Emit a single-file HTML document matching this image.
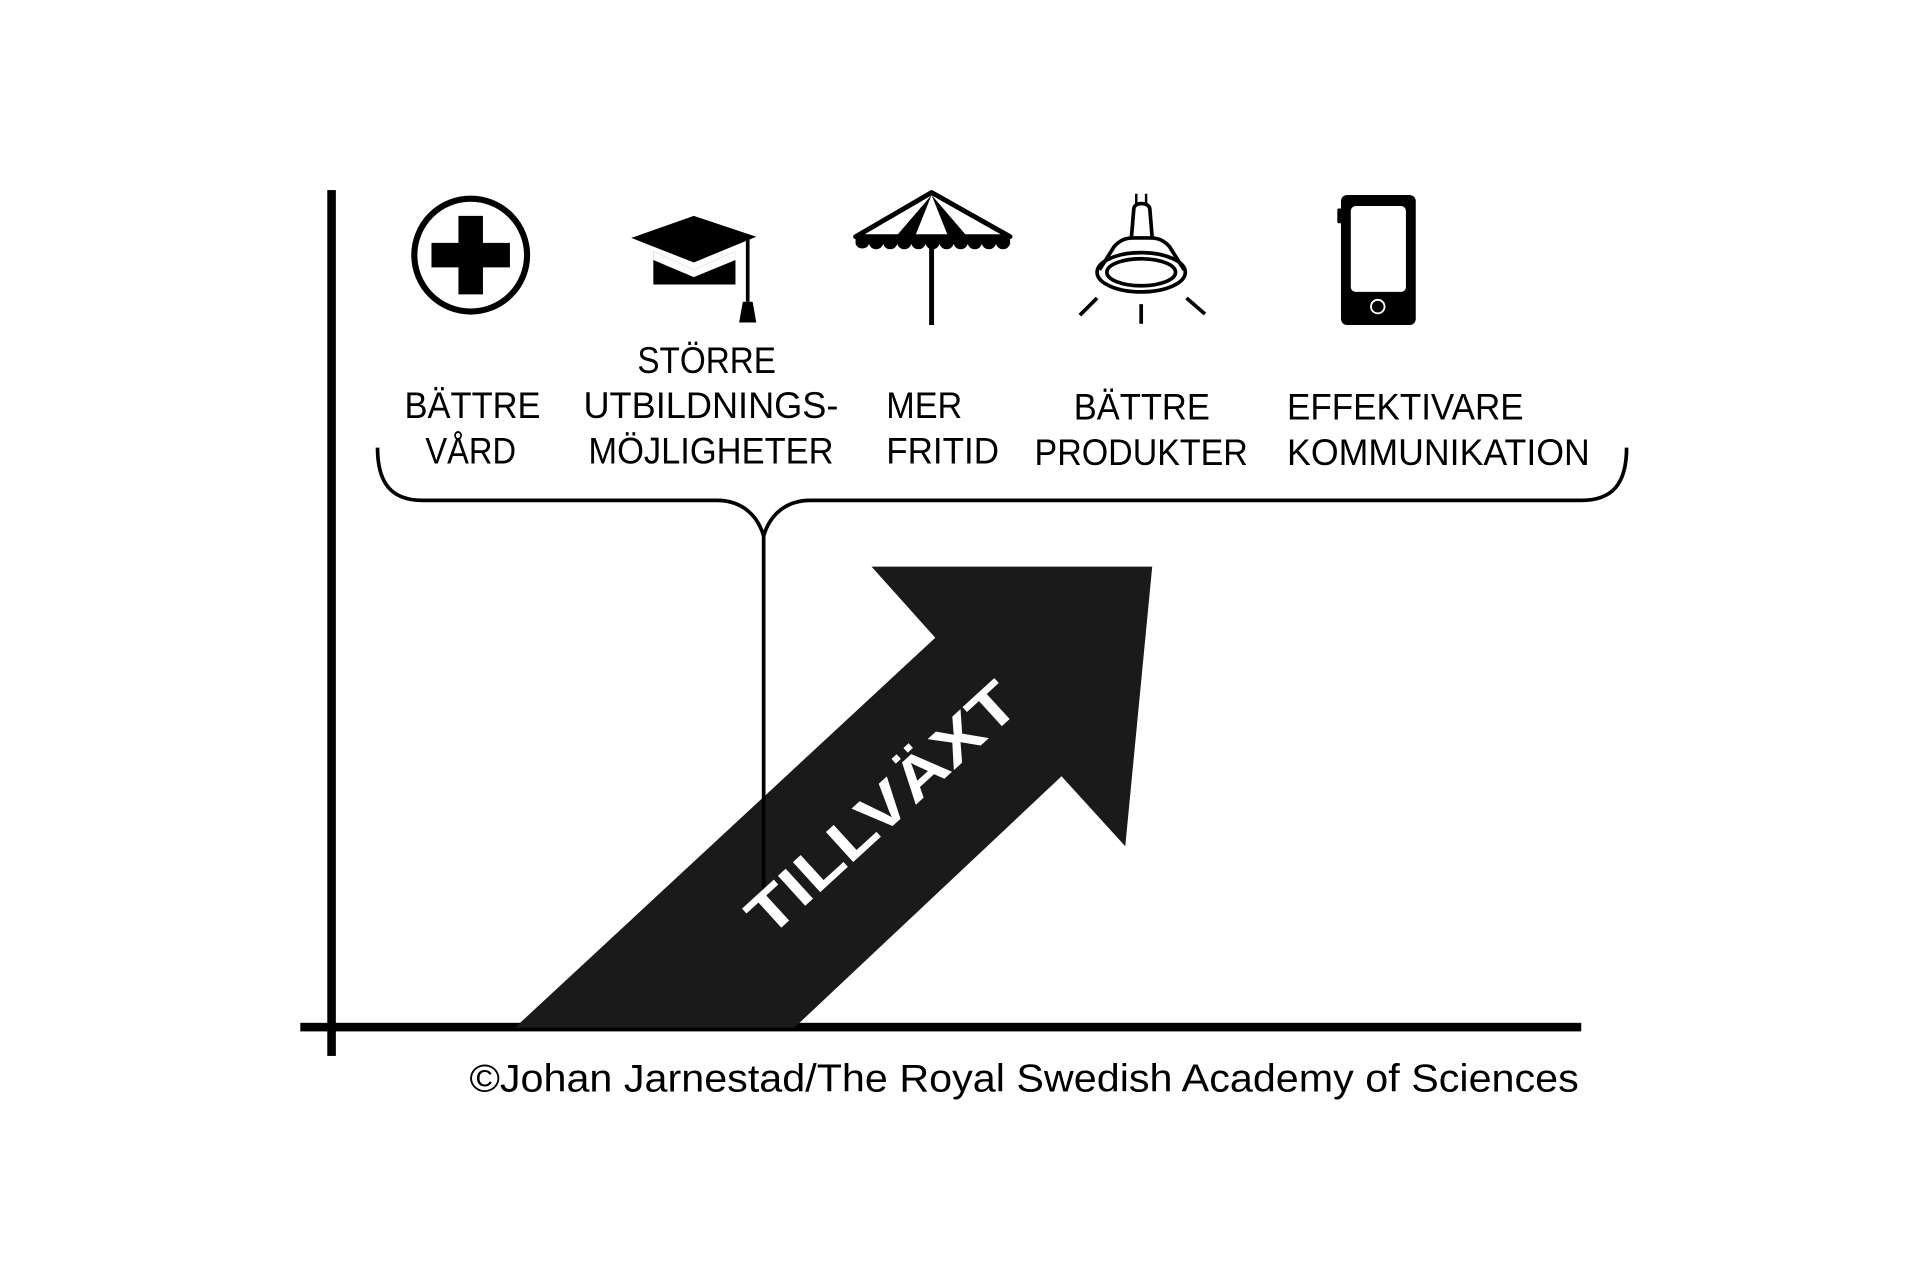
<!DOCTYPE html>
<html><head><meta charset="utf-8"><style>
html,body{margin:0;padding:0;background:#fff;}
svg{display:block}
text{font-family:"Liberation Sans",sans-serif;fill:#000}
</style></head><body>
<svg width="1922" height="1273" viewBox="0 0 1568 1038" preserveAspectRatio="none" xmlns="http://www.w3.org/2000/svg">
<rect width="1568" height="1038" fill="#fff"/>
<!-- axes -->
<rect x="267" y="155" width="7" height="706" fill="#000"/>
<rect x="245" y="834" width="1045" height="7" fill="#000"/>
<!-- arrow -->
<polygon points="420,838 648,838 866,633 918,690 940,462 711,462 763,520" fill="#1a1a1a"/>
<!-- brace -->
<path d="M308,365 C308,395 320,408 345,408 L585,408 C605,408 618,420 623,437 C628,420 641,408 661,408 L1290,408 C1315,408 1327,395 1327,365" fill="none" stroke="#000" stroke-width="3"/>
<line x1="623" y1="437" x2="623" y2="740" stroke="#000" stroke-width="3"/>
<!-- TILLVÄXT -->
<text x="0" y="0" transform="translate(722,662) rotate(-42.4)" text-anchor="middle" dominant-baseline="middle" font-weight="bold" font-size="48" textLength="280" lengthAdjust="spacingAndGlyphs" style="fill:#fff">TILLVÄXT</text>
<!-- icon 1 circle cross -->
<circle cx="384" cy="208" r="46" fill="none" stroke="#000" stroke-width="5"/>
<path d="M374,176 h20 v22 h22 v20 h-22 v22 h-20 v-22 h-22 v-20 h22z" fill="#000"/>
<!-- grad cap -->
<polygon points="566,176 617,193 566,214 515,194" fill="#000"/>
<polygon points="533,205 566,220 600,205 600,232 533,232" fill="#000"/>
<polygon points="533,205 566,220 600,205 600,212 566,226 533,212" fill="#fff"/>
<line x1="610" y1="195" x2="610" y2="246" stroke="#000" stroke-width="3"/>
<path d="M606,246 h8 l3,17 h-14z" fill="#000"/>
<!-- umbrella -->
<path d="M760,157 L698,193 L824,193 Z" fill="none" stroke="#000" stroke-width="4" stroke-linejoin="round"/>
<polygon points="760,159 730,194 746,194" fill="#000"/>
<polygon points="760,159 774,194 790,194" fill="#000"/>
<path d="M698,193 L824,193 L824,199 a6,6 0 0 1 -11.5,0 a6,6 0 0 1 -11.5,0 a6,6 0 0 1 -11.5,0 a6,6 0 0 1 -11.5,0 a6,6 0 0 1 -11.5,0 a6,6 0 0 1 -11.5,0 a6,6 0 0 1 -11.5,0 a6,6 0 0 1 -11.5,0 a6,6 0 0 1 -11.5,0 a6,6 0 0 1 -11.5,0 a6,6 0 0 1 -11,0 Z" fill="#000"/>
<line x1="760" y1="194" x2="760" y2="265" stroke="#000" stroke-width="4"/>
<!-- lamp -->
<line x1="927" y1="158" x2="927" y2="166" stroke="#000" stroke-width="2"/>
<line x1="935" y1="158" x2="935" y2="166" stroke="#000" stroke-width="2"/>
<path d="M923,194 L925,170 Q926,166 931,166 Q937,166 938,170 L940,194" fill="none" stroke="#000" stroke-width="3"/>
<path d="M897,220 L909,201 Q915,194 924,194 L939,194 Q948,194 954,201 L966,220" fill="none" stroke="#000" stroke-width="3"/>
<ellipse cx="931" cy="222" rx="36" ry="16" fill="none" stroke="#000" stroke-width="3"/>
<ellipse cx="931" cy="222" rx="28" ry="11" fill="none" stroke="#000" stroke-width="3"/>
<line x1="881" y1="257" x2="895" y2="243" stroke="#000" stroke-width="3"/>
<line x1="931" y1="248" x2="931" y2="264" stroke="#000" stroke-width="3"/>
<line x1="968" y1="243" x2="983" y2="256" stroke="#000" stroke-width="3"/>
<!-- phone -->
<rect x="1094" y="159" width="61" height="106" rx="5" fill="#000"/>
<rect x="1091" y="170" width="4" height="12" rx="1" fill="#000"/>
<rect x="1102" y="168" width="45" height="70" rx="4" fill="#fff"/>
<circle cx="1124" cy="250" r="5.5" fill="none" stroke="#fff" stroke-width="1.5"/>
<!-- labels -->
<g font-size="30">
<text x="330" y="341" textLength="111" lengthAdjust="spacingAndGlyphs">BÄTTRE</text>
<text x="347" y="378" textLength="74" lengthAdjust="spacingAndGlyphs">VÅRD</text>
<text x="520" y="304" textLength="113" lengthAdjust="spacingAndGlyphs">STÖRRE</text>
<text x="476" y="341" textLength="208" lengthAdjust="spacingAndGlyphs">UTBILDNINGS-</text>
<text x="480" y="378" textLength="200" lengthAdjust="spacingAndGlyphs">MÖJLIGHETER</text>
<text x="723" y="341" textLength="62" lengthAdjust="spacingAndGlyphs">MER</text>
<text x="723" y="378" textLength="92" lengthAdjust="spacingAndGlyphs">FRITID</text>
<text x="876" y="342" textLength="111" lengthAdjust="spacingAndGlyphs">BÄTTRE</text>
<text x="844" y="379" textLength="174" lengthAdjust="spacingAndGlyphs">PRODUKTER</text>
<text x="1050" y="342" textLength="193" lengthAdjust="spacingAndGlyphs">EFFEKTIVARE</text>
<text x="1050" y="379" textLength="247" lengthAdjust="spacingAndGlyphs">KOMMUNIKATION</text>
</g>
<text x="383" y="890" font-size="32" textLength="905" lengthAdjust="spacingAndGlyphs">©Johan Jarnestad/The Royal Swedish Academy of Sciences</text>
</svg>
</body></html>
